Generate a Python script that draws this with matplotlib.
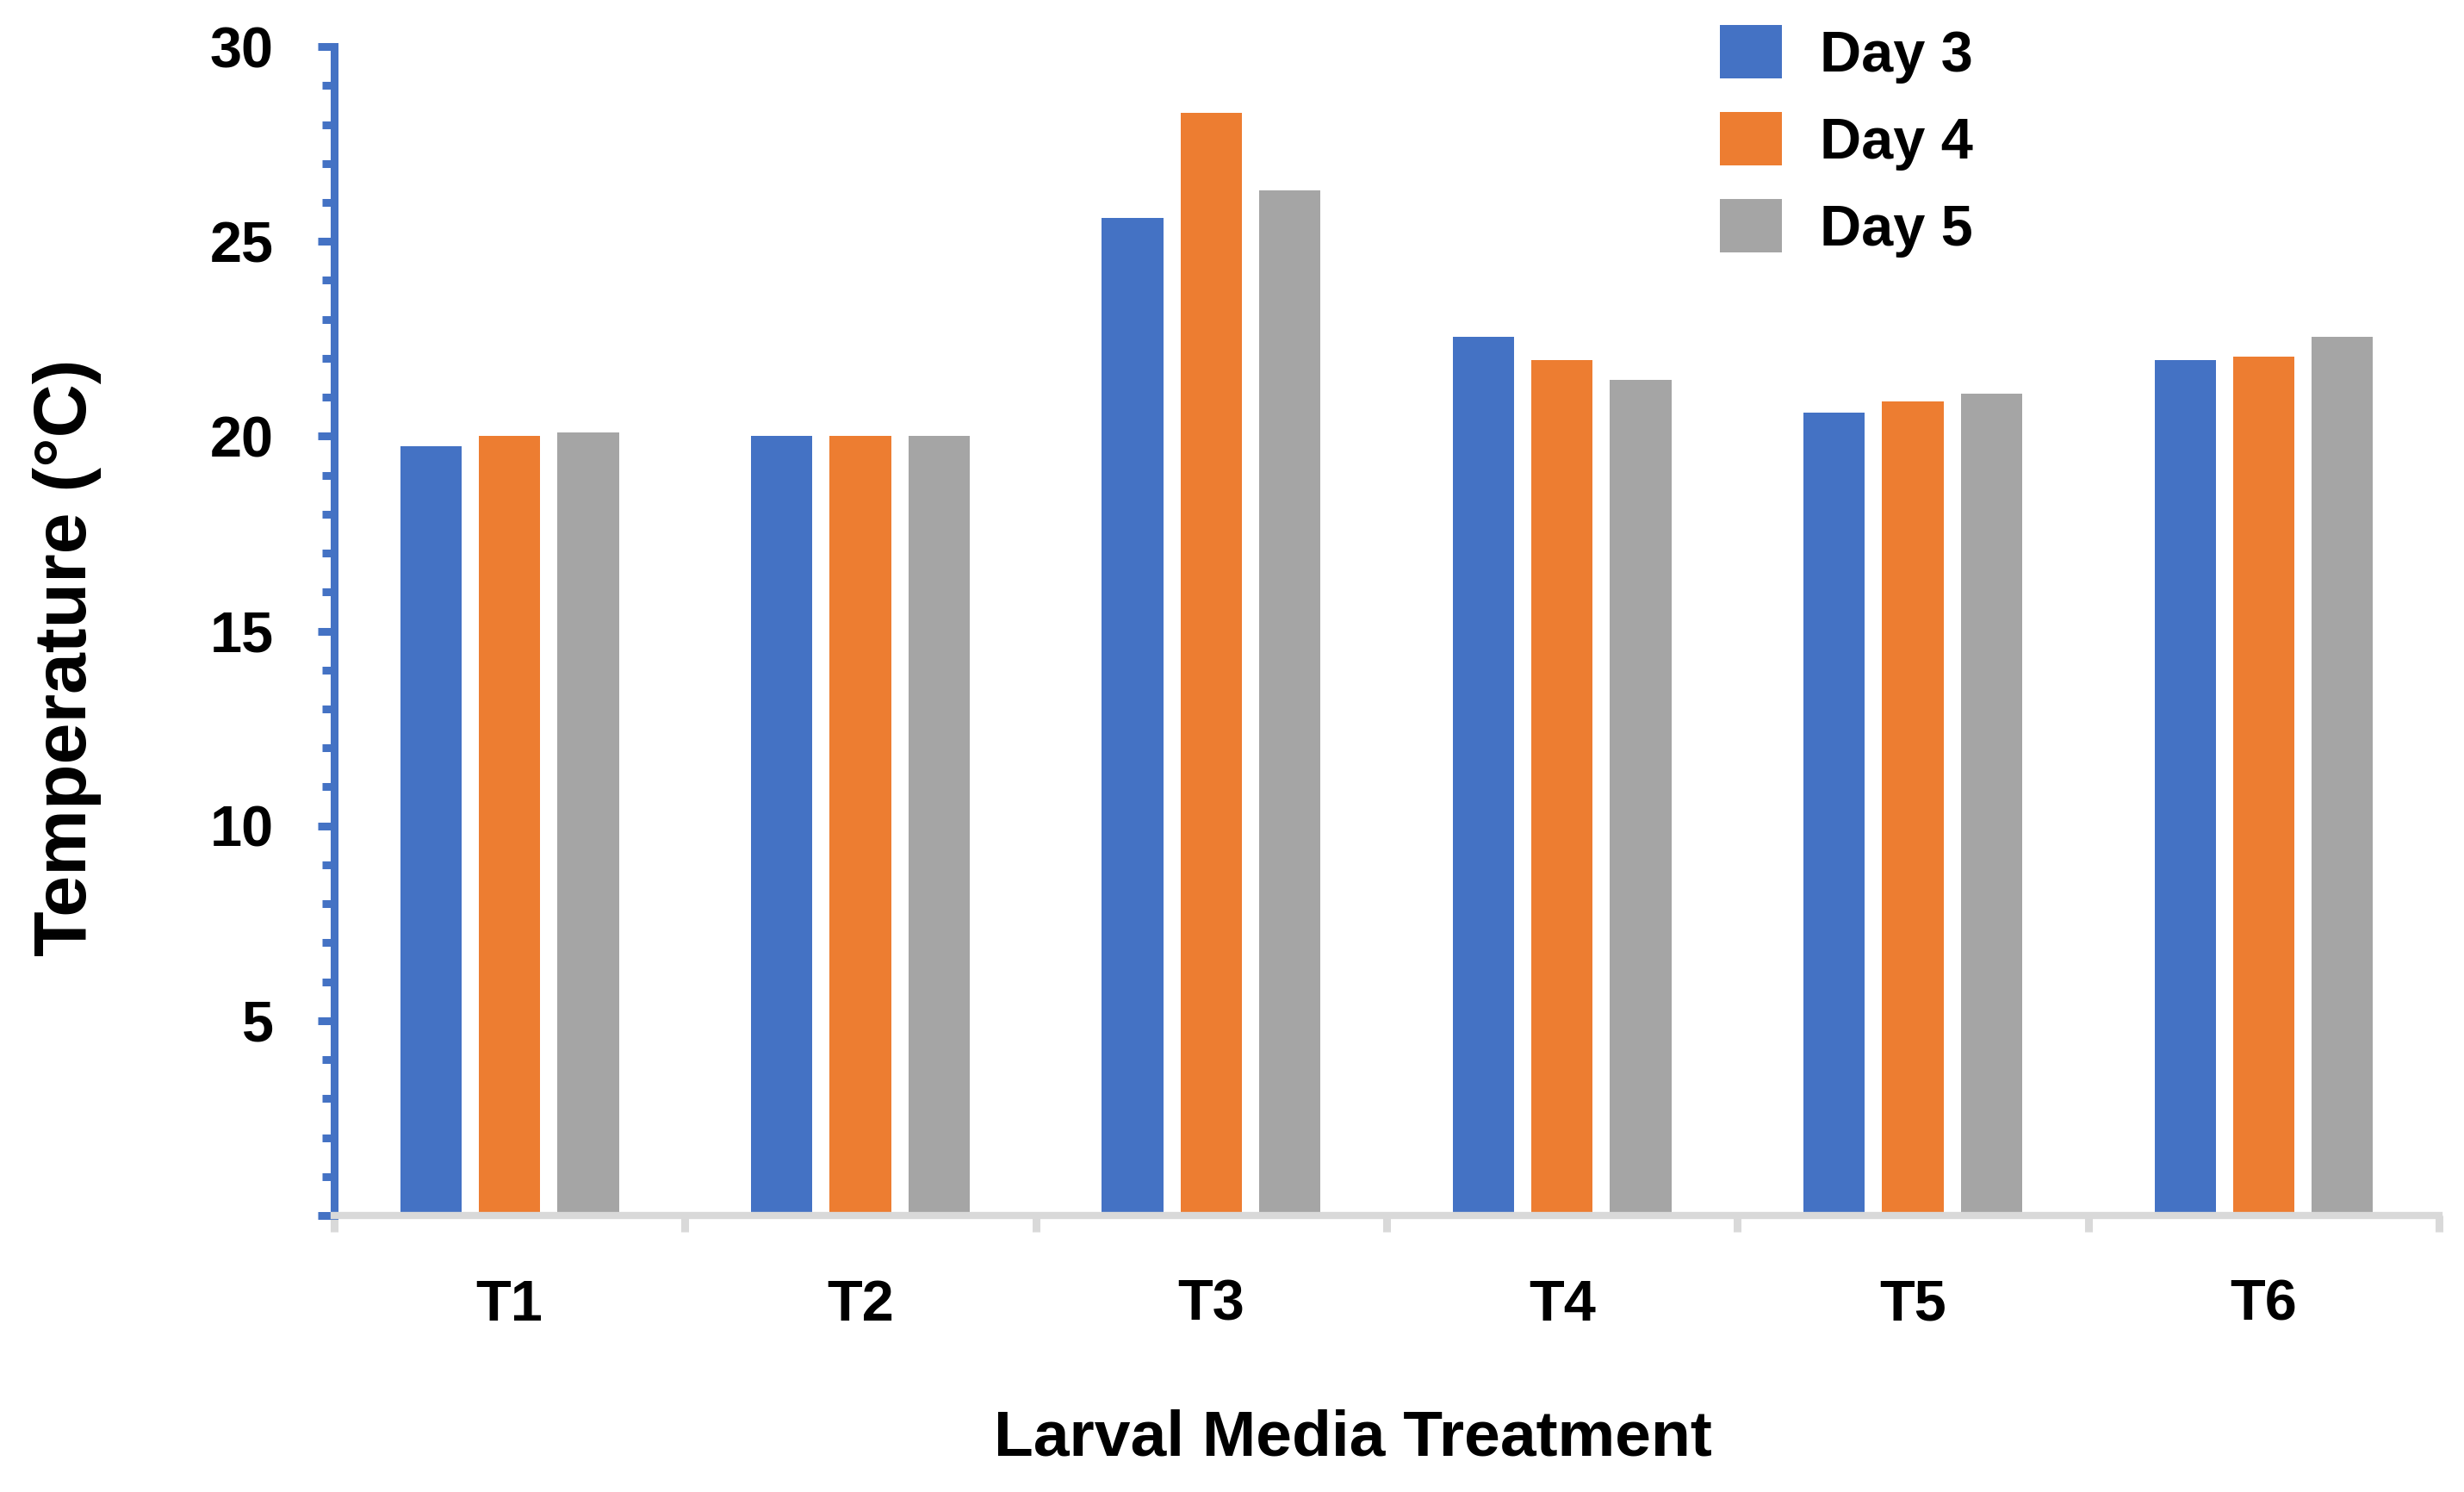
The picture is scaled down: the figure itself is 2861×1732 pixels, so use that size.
import numpy as np
import matplotlib
matplotlib.use('Agg')
import matplotlib.pyplot as plt

treatments = ['T1', 'T2', 'T3', 'T4', 'T5', 'T6']
days = ['Day 3', 'Day 4', 'Day 5']
day3 = [19.75, 20.0, 25.6, 22.55, 20.6, 21.95]
day4 = [20.0, 20.0, 28.3, 21.95, 20.9, 22.05]
day5 = [20.1, 20.0, 26.3, 21.45, 21.1, 22.55]
colors = ['#4472C4', '#ED7D31', '#A5A5A5']

plt.rcParams['font.family'] = ['Liberation Sans', 'DejaVu Sans']
plt.rcParams['font.weight'] = 'bold'

fig = plt.figure(figsize=(28.61, 17.32), dpi=100)
ax = fig.add_axes([0.1356, 0.1853, 0.8543, 0.7835])

x = np.arange(len(treatments))
width = 0.175
offset = 0.224
for i, (vals, lab, col) in enumerate(zip([day3, day4, day5], days, colors)):
    ax.bar(x + (i - 1) * offset, vals, width, color=col, label=lab, zorder=2)

ax.set_xlim(-0.5, 5.5)
ax.set_ylim(0, 30)

# axis lines
ax.spines['top'].set_visible(False)
ax.spines['right'].set_visible(False)
ax.spines['left'].set_color('#4472C4')
ax.spines['left'].set_linewidth(6.5)
ax.spines['bottom'].set_color('#D9D9D9')
ax.spines['bottom'].set_linewidth(6)

# y ticks
ax.set_yticks(range(0, 31, 5))
ax.set_yticklabels([''] + [str(v) for v in range(5, 31, 5)])
ax.set_yticks(range(0, 31), minor=True)
ax.tick_params(axis='y', which='major', length=13.7, width=6.5, color='#4472C4',
               pad=37, labelsize=48)
ax.tick_params(axis='y', which='minor', length=10, width=6.5, color='#4472C4')

# x ticks: boundaries as major, labels on minor
ax.set_xticks(np.arange(-0.5, 6, 1))
ax.set_xticklabels([''] * 7)
ax.set_xticks(x, minor=True)
ax.set_xticklabels(treatments, minor=True)
ax.tick_params(axis='x', which='major', length=14, width=6.5, color='#D9D9D9')
ax.tick_params(axis='x', which='minor', length=0, pad=53, labelsize=48)

ax.set_xlabel('Larval Media Treatment', fontsize=54, fontweight='bold', va='center')
ax.xaxis.set_label_coords(0.484, -0.191)
ax.set_ylabel('Temperature (°C)', fontsize=62, fontweight='bold', va='center')
ax.yaxis.set_label_coords(-0.127, 0.477)

ax.legend(loc='upper left', bbox_to_anchor=(1997 / 2861, 1 - 29 / 1732),
          bbox_transform=fig.transFigure, frameon=False, fontsize=48,
          handlelength=1.08, handleheight=1.05, handletextpad=0.66,
          labelspacing=0.5, borderpad=0, borderaxespad=0)

fig.savefig('out.png', dpi=100)
